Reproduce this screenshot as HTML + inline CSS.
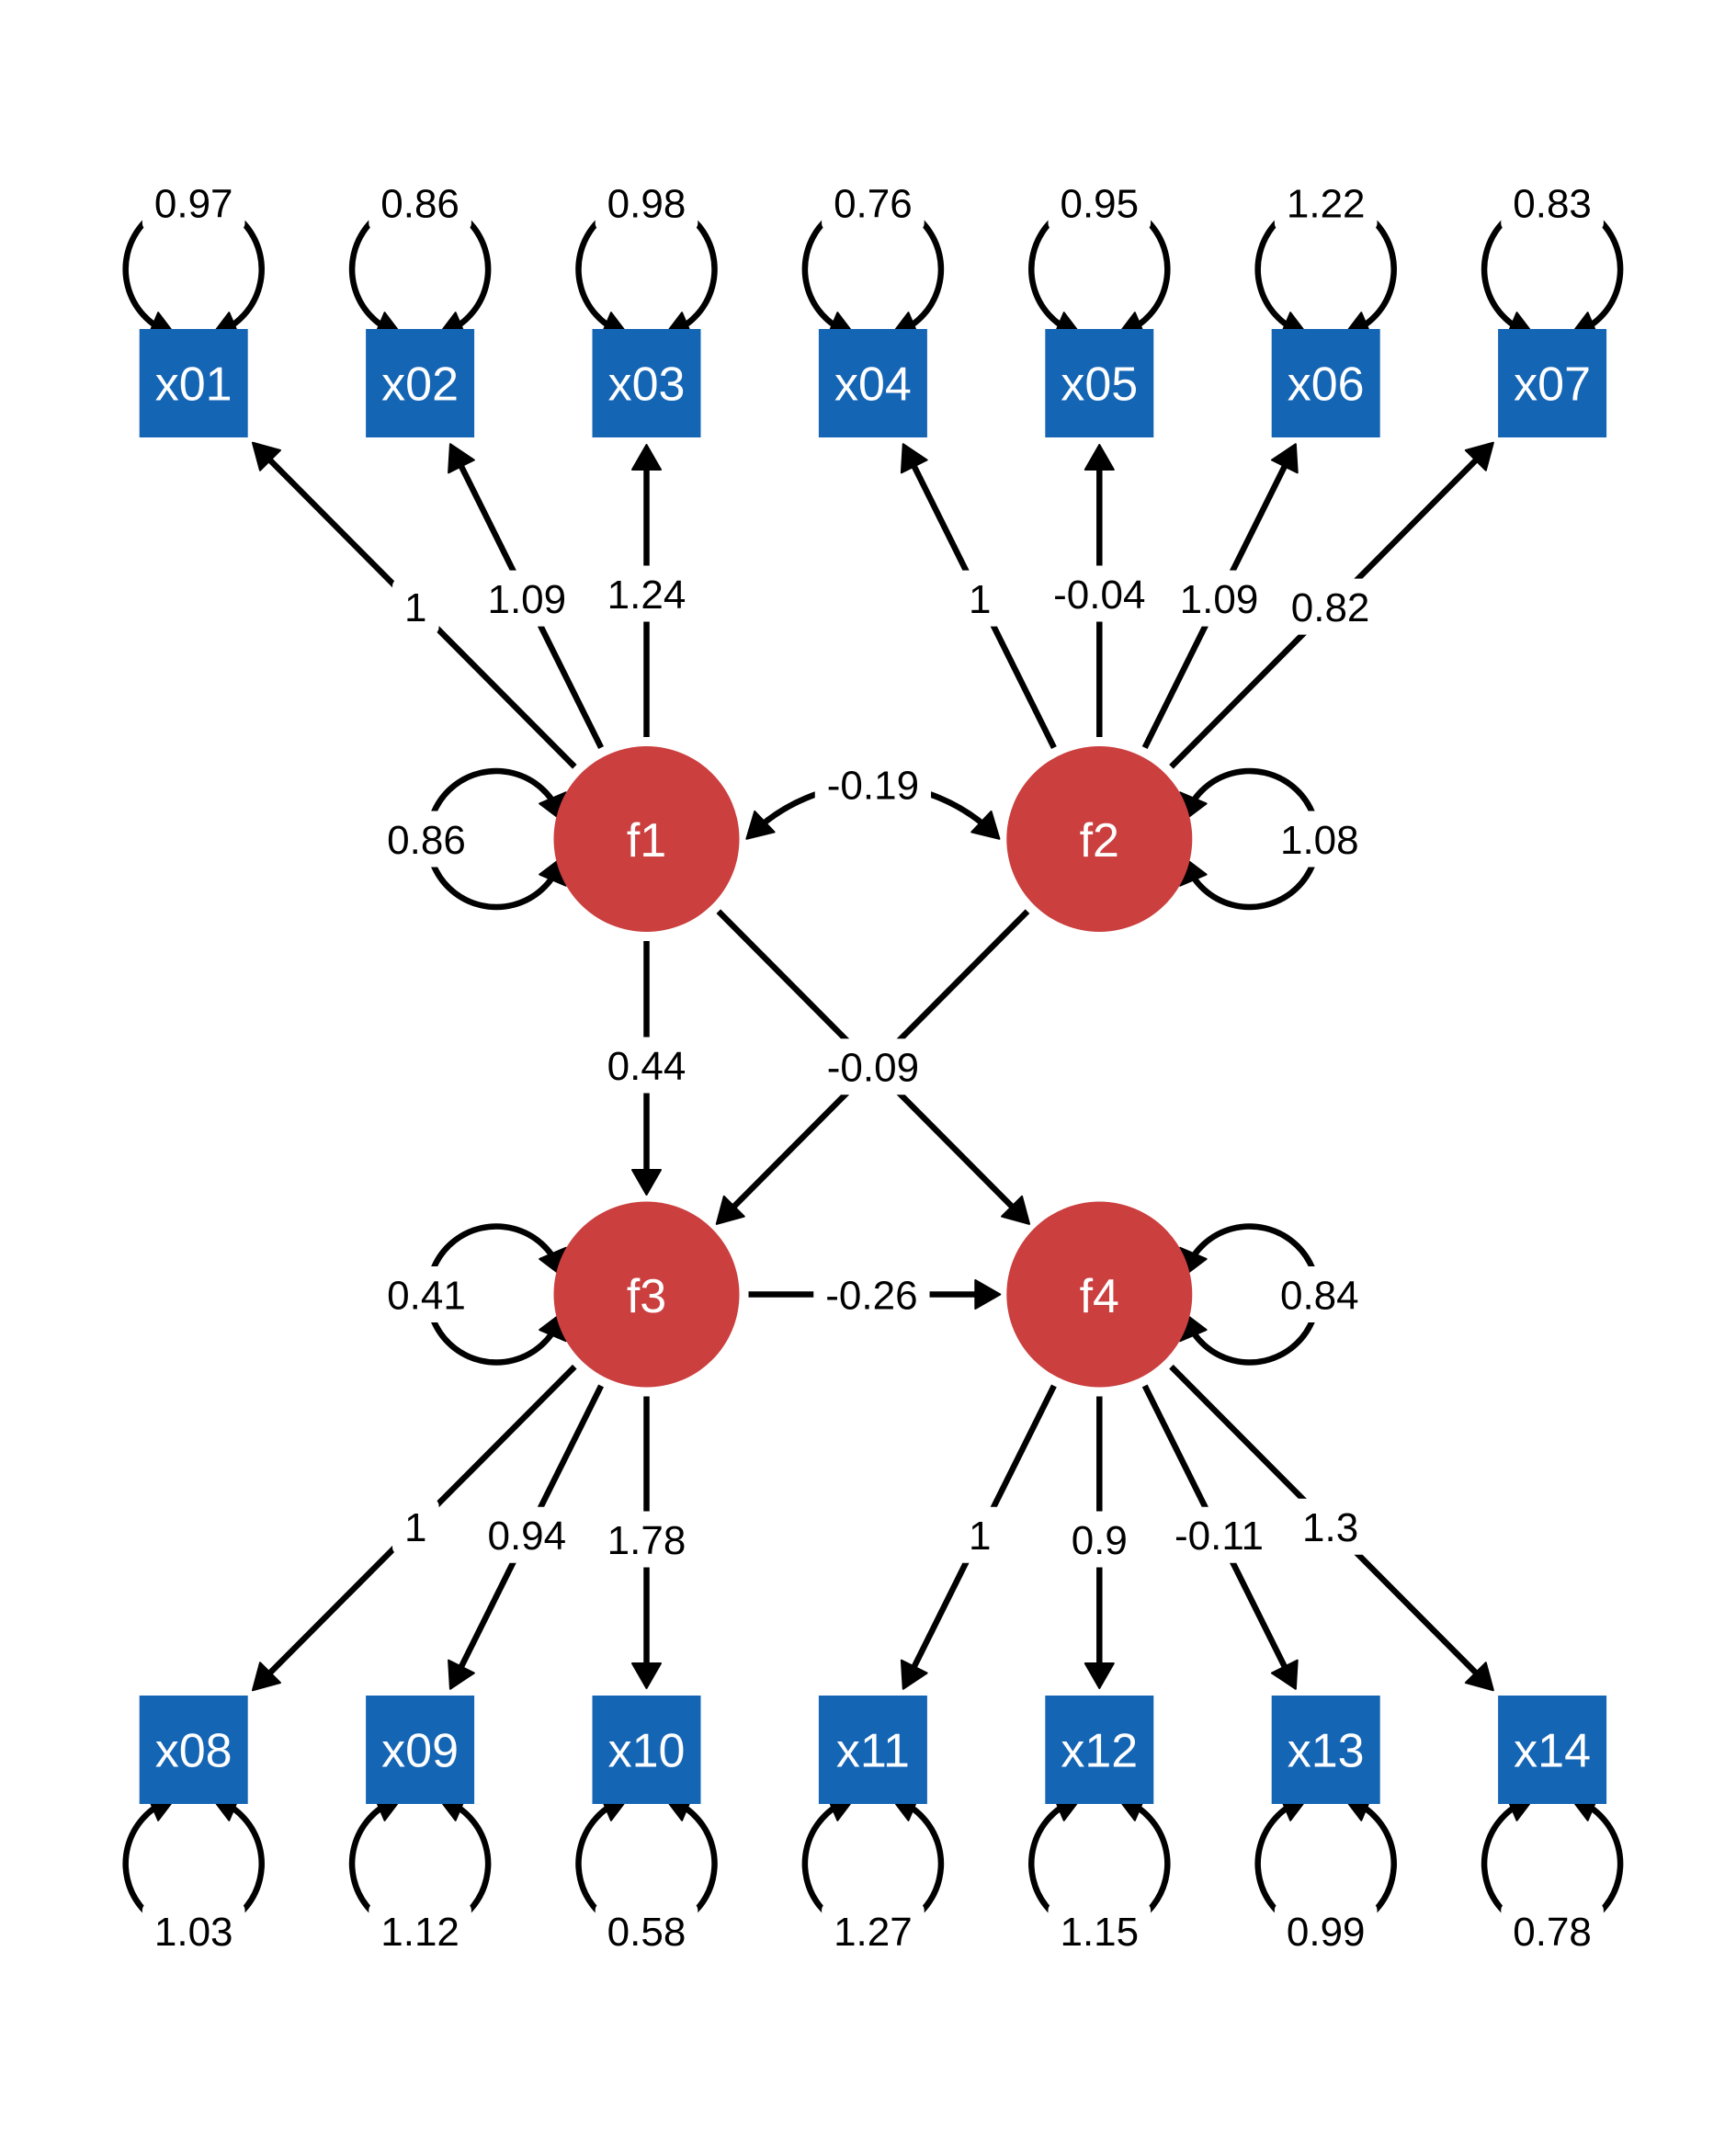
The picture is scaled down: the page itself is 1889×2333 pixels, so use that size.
<!DOCTYPE html>
<html>
<head>
<meta charset="utf-8">
<style>
  html, body { margin: 0; padding: 0; background: #ffffff; }
  svg { display: block; }
  text { font-family: "Liberation Sans", Arial, sans-serif; }
  .lbl { font-size: 44px; fill: #000; text-anchor: middle; }
  .nl { font-size: 52px; fill: #fff; text-anchor: middle; }
  .ln { fill: none; stroke: #000; stroke-width: 6.5; }
  .bg { fill: #fff; }
</style>
</head>
<body>
<svg width="1889" height="2333" viewBox="0 0 1889 2333" xmlns="http://www.w3.org/2000/svg">
  <defs>
    <marker id="ae" markerUnits="userSpaceOnUse" markerWidth="60" markerHeight="60" refX="17" refY="0" orient="auto" style="overflow:visible">
      <path d="M0,-15.5 L27,0 L0,15.5 Z" fill="#000" stroke="#000" stroke-width="2" stroke-linejoin="round"/>
    </marker>
    <marker id="as" markerUnits="userSpaceOnUse" markerWidth="60" markerHeight="60" refX="17" refY="0" orient="auto-start-reverse" style="overflow:visible">
      <path d="M0,-15.5 L27,0 L0,15.5 Z" fill="#000" stroke="#000" stroke-width="2" stroke-linejoin="round"/>
    </marker>
  </defs>
  <rect x="0" y="0" width="1889" height="2333" fill="#fff"/>

  <!-- loading edges top -->
  <g class="ln" marker-end="url(#ae)">
    <path d="M625.3 834.3 L282.0 488.8"/>
    <path d="M654.1 813.6 L494.4 492.2"/>
    <path d="M703.5 802 L703.5 494"/>
    <path d="M1146.9 813.6 L987.2 492.2"/>
    <path d="M1196.3 802 L1196.3 494"/>
    <path d="M1245.7 813.6 L1405.4 492.2"/>
    <path d="M1274.5 834.3 L1617.8 488.8"/>
    <!-- bottom -->
    <path d="M625.3 1487.2 L282.0 1832.2"/>
    <path d="M654.1 1507.9 L494.4 1828.8"/>
    <path d="M703.5 1519.5 L703.5 1827"/>
    <path d="M1146.9 1507.9 L987.2 1828.8"/>
    <path d="M1196.3 1519.5 L1196.3 1827"/>
    <path d="M1245.7 1507.9 L1405.4 1828.8"/>
    <path d="M1274.5 1487.2 L1617.8 1832.2"/>
    <!-- factor regressions -->
    <path d="M703.5 1024 L703.5 1290"/>
    <path d="M781.8 991.7 L1113.0 1324.8"/>
    <path d="M1118.0 991.7 L786.8 1324.8"/>
    <path d="M814.5 1408.5 L1078.3 1408.5"/>
  </g>

  <!-- covariance f1-f2 and loops -->
  <g class="ln" marker-start="url(#as)" marker-end="url(#ae)">
    <path d="M819.6 905.9 A189 189 0 0 1 1080.2 905.9"/>
    <!-- factor loops -->
    <path d="M608.1 884.0 A74 74 0 1 0 608.1 942.0"/>
    <path d="M1291.7 884.0 A74 74 0 1 1 1291.7 942.0"/>
    <path d="M608.1 1379.5 A74 74 0 1 0 608.1 1437.5"/>
    <path d="M1291.7 1379.5 A74 74 0 1 1 1291.7 1437.5"/>
    <!-- top box loops -->
    <path d="M181.74 361.1 A74 74 0 1 1 239.66 361.1"/>
    <path d="M428.14 361.1 A74 74 0 1 1 486.06 361.1"/>
    <path d="M674.54 361.1 A74 74 0 1 1 732.46 361.1"/>
    <path d="M920.94 361.1 A74 74 0 1 1 978.86 361.1"/>
    <path d="M1167.34 361.1 A74 74 0 1 1 1225.26 361.1"/>
    <path d="M1413.74 361.1 A74 74 0 1 1 1471.66 361.1"/>
    <path d="M1660.14 361.1 A74 74 0 1 1 1718.06 361.1"/>
    <!-- bottom box loops -->
    <path d="M181.74 1959.9 A74 74 0 1 0 239.66 1959.9"/>
    <path d="M428.14 1959.9 A74 74 0 1 0 486.06 1959.9"/>
    <path d="M674.54 1959.9 A74 74 0 1 0 732.46 1959.9"/>
    <path d="M920.94 1959.9 A74 74 0 1 0 978.86 1959.9"/>
    <path d="M1167.34 1959.9 A74 74 0 1 0 1225.26 1959.9"/>
    <path d="M1413.74 1959.9 A74 74 0 1 0 1471.66 1959.9"/>
    <path d="M1660.14 1959.9 A74 74 0 1 0 1718.06 1959.9"/>
  </g>

  <!-- observed variable boxes -->
  <g fill="#1565B5">
    <rect x="151.7" y="358" width="118" height="118"/>
    <rect x="398.1" y="358" width="118" height="118"/>
    <rect x="644.5" y="358" width="118" height="118"/>
    <rect x="890.9" y="358" width="118" height="118"/>
    <rect x="1137.3" y="358" width="118" height="118"/>
    <rect x="1383.7" y="358" width="118" height="118"/>
    <rect x="1630.1" y="358" width="118" height="118"/>
    <rect x="151.7" y="1845" width="118" height="118"/>
    <rect x="398.1" y="1845" width="118" height="118"/>
    <rect x="644.5" y="1845" width="118" height="118"/>
    <rect x="890.9" y="1845" width="118" height="118"/>
    <rect x="1137.3" y="1845" width="118" height="118"/>
    <rect x="1383.7" y="1845" width="118" height="118"/>
    <rect x="1630.1" y="1845" width="118" height="118"/>
  </g>

  <!-- latent factors -->
  <g fill="#CB3F3F">
    <circle cx="703.5" cy="913" r="101"/>
    <circle cx="1196.3" cy="913" r="101"/>
    <circle cx="703.5" cy="1408.5" r="101"/>
    <circle cx="1196.3" cy="1408.5" r="101"/>
  </g>

  <!-- node labels -->
  <text class="nl" x="210.7" y="435.6">x01</text>
  <text class="nl" x="457.1" y="435.6">x02</text>
  <text class="nl" x="703.5" y="435.6">x03</text>
  <text class="nl" x="949.9" y="435.6">x04</text>
  <text class="nl" x="1196.3" y="435.6">x05</text>
  <text class="nl" x="1442.7" y="435.6">x06</text>
  <text class="nl" x="1689.1" y="435.6">x07</text>
  <text class="nl" x="210.7" y="1922.6">x08</text>
  <text class="nl" x="457.1" y="1922.6">x09</text>
  <text class="nl" x="703.5" y="1922.6">x10</text>
  <text class="nl" x="949.9" y="1922.6">x11</text>
  <text class="nl" x="1196.3" y="1922.6">x12</text>
  <text class="nl" x="1442.7" y="1922.6">x13</text>
  <text class="nl" x="1689.1" y="1922.6">x14</text>
  <text class="nl" x="703.5" y="932">f1</text>
  <text class="nl" x="1196.3" y="932">f2</text>
  <text class="nl" x="703.5" y="1428">f3</text>
  <text class="nl" x="1196.3" y="1428">f4</text>

  <!-- label backgrounds -->
  <g class="bg">
    <!-- top loop labels -->
    <rect x="154.9" y="190" width="111.6" height="61" rx="8"/>
    <rect x="401.3" y="190" width="111.6" height="61" rx="8"/>
    <rect x="647.7" y="190" width="111.6" height="61" rx="8"/>
    <rect x="894.1" y="190" width="111.6" height="61" rx="8"/>
    <rect x="1140.5" y="190" width="111.6" height="61" rx="8"/>
    <rect x="1386.9" y="190" width="111.6" height="61" rx="8"/>
    <rect x="1633.3" y="190" width="111.6" height="61" rx="8"/>
    <!-- bottom loop labels -->
    <rect x="154.9" y="2070.5" width="111.6" height="61" rx="8"/>
    <rect x="401.3" y="2070.5" width="111.6" height="61" rx="8"/>
    <rect x="647.7" y="2070.5" width="111.6" height="61" rx="8"/>
    <rect x="894.1" y="2070.5" width="111.6" height="61" rx="8"/>
    <rect x="1140.5" y="2070.5" width="111.6" height="61" rx="8"/>
    <rect x="1386.9" y="2070.5" width="111.6" height="61" rx="8"/>
    <rect x="1633.3" y="2070.5" width="111.6" height="61" rx="8"/>
    <!-- factor loop labels -->
    <rect x="408.2" y="882.5" width="111.6" height="61" rx="8"/>
    <rect x="1380" y="882.5" width="111.6" height="61" rx="8"/>
    <rect x="408.2" y="1378" width="111.6" height="61" rx="8"/>
    <rect x="1380" y="1378" width="111.6" height="61" rx="8"/>
    <!-- covariance -->
    <rect x="886.75" y="823.3" width="126.3" height="61" rx="8"/>
    <!-- top edges -->
    <rect x="427.05" y="629.6" width="50.5" height="61" rx="8"/>
    <rect x="517.5" y="620.6" width="111.6" height="61" rx="8"/>
    <rect x="647.7" y="615.5" width="111.6" height="61" rx="8"/>
    <rect x="1040.95" y="620.6" width="50.5" height="61" rx="8"/>
    <rect x="1133.15" y="615.5" width="126.3" height="61" rx="8"/>
    <rect x="1270.7" y="620.6" width="111.6" height="61" rx="8"/>
    <rect x="1391.8" y="629.6" width="111.6" height="61" rx="8"/>
    <!-- bottom edges -->
    <rect x="427.05" y="1630.7" width="50.5" height="61" rx="8"/>
    <rect x="517.5" y="1639.7" width="111.6" height="61" rx="8"/>
    <rect x="647.7" y="1644.5" width="111.6" height="61" rx="8"/>
    <rect x="1040.95" y="1639.7" width="50.5" height="61" rx="8"/>
    <rect x="1152.7" y="1644.5" width="87.2" height="61" rx="8"/>
    <rect x="1263.35" y="1639.7" width="126.3" height="61" rx="8"/>
    <rect x="1404" y="1630.7" width="87.2" height="61" rx="8"/>
    <!-- factor edges -->
    <rect x="647.7" y="1128.5" width="111.6" height="61" rx="8"/>
    <rect x="886.75" y="1130.2" width="126.3" height="61" rx="8"/>
    <rect x="885.25" y="1378" width="126.3" height="61" rx="8"/>
  </g>

  <!-- labels -->
  <g class="lbl">
    <text x="210.7" y="236.3">0.97</text>
    <text x="457.1" y="236.3">0.86</text>
    <text x="703.5" y="236.3">0.98</text>
    <text x="949.9" y="236.3">0.76</text>
    <text x="1196.3" y="236.3">0.95</text>
    <text x="1442.7" y="236.3">1.22</text>
    <text x="1689.1" y="236.3">0.83</text>

    <text x="210.7" y="2116.8">1.03</text>
    <text x="457.1" y="2116.8">1.12</text>
    <text x="703.5" y="2116.8">0.58</text>
    <text x="949.9" y="2116.8">1.27</text>
    <text x="1196.3" y="2116.8">1.15</text>
    <text x="1442.7" y="2116.8">0.99</text>
    <text x="1689.1" y="2116.8">0.78</text>

    <text x="464" y="928.8">0.86</text>
    <text x="1435.8" y="928.8">1.08</text>
    <text x="464" y="1424.3">0.41</text>
    <text x="1435.8" y="1424.3">0.84</text>

    <text x="949.9" y="869.5">-0.19</text>

    <text x="452.3" y="675.9">1</text>
    <text x="573.3" y="666.9">1.09</text>
    <text x="703.5" y="661.8">1.24</text>
    <text x="1066.2" y="666.9">1</text>
    <text x="1196.3" y="661.8">-0.04</text>
    <text x="1326.5" y="666.9">1.09</text>
    <text x="1447.6" y="675.9">0.82</text>

    <text x="452.3" y="1677">1</text>
    <text x="573.3" y="1686">0.94</text>
    <text x="703.5" y="1690.8">1.78</text>
    <text x="1066.2" y="1686">1</text>
    <text x="1196.3" y="1690.8">0.9</text>
    <text x="1326.5" y="1686">-0.11</text>
    <text x="1447.6" y="1677">1.3</text>

    <text x="703.5" y="1174.8">0.44</text>
    <text x="949.9" y="1176.5">-0.09</text>
    <text x="948.4" y="1424.3">-0.26</text>
  </g>
</svg>
</body>
</html>
